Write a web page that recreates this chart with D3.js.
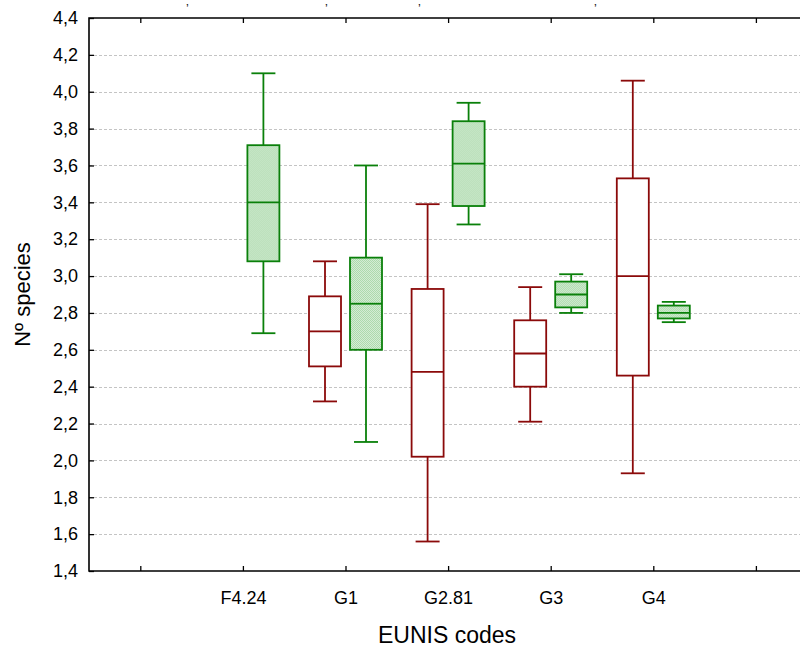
<!DOCTYPE html>
<html>
<head>
<meta charset="utf-8">
<script src="https://cdn.jsdelivr.net/npm/d3@7"></script>
<style>
  body { margin: 0; background: #fff; }
  svg { display: block; font-family: "Liberation Sans", Arial, sans-serif; }
</style>
</head>
<body>
<svg class="chart"></svg>
<script>
const width = 800;
const height = 649;
const margin = {top: 18, left: 89, bottom: 78, right: 0};

// categories (end slots are empty, like in the original)
const categories = ["F4.24", "G1", "G2.81", "G3", "G4"];
const slots = ["_l", ...categories, "_r"];

// [min, q1, median, q3, max] per category
const redBoxes = [
    null,
    [2.32, 2.51, 2.70, 2.89, 3.08],
    [1.56, 2.02, 2.48, 2.93, 3.39],
    [2.21, 2.40, 2.58, 2.76, 2.94],
    [1.93, 2.46, 3.00, 3.53, 4.06]
];
const greenBoxes = [
    [2.69, 3.08, 3.40, 3.71, 4.10],
    [2.10, 2.60, 2.85, 3.10, 3.60],
    [3.28, 3.38, 3.61, 3.84, 3.94],
    [2.80, 2.83, 2.90, 2.97, 3.01],
    [2.75, 2.77, 2.80, 2.84, 2.86]
];
const yTicks = d3.range(1.4, 4.41, 0.2);

const innerW = 712;
const innerH = 553;

let svg = d3.select("svg.chart")
    .attr("width", width)
    .attr("height", height);

let defs = svg.append("defs");
let pat = defs.append("pattern")
    .attr("id", "hatch")
    .attr("width", 2).attr("height", 2)
    .attr("patternUnits", "userSpaceOnUse");
pat.append("rect").attr("width", 2).attr("height", 2).attr("fill", "#d4ecd4");
pat.append("rect").attr("width", 1).attr("height", 1).attr("fill", "#addaad");
pat.append("rect").attr("x", 1).attr("y", 1).attr("width", 1).attr("height", 1).attr("fill", "#addaad");

let g = svg.append("g")
    .attr("transform", `translate(${margin.left}, ${margin.top})`);

let x = d3.scalePoint()
    .domain(slots)
    .range([51.3, 51.3 + 102.6 * 6]);

let y = d3.scaleLinear()
    .domain([1.4, 4.4])
    .range([innerH, 0]);

// grid
g.append("g")
    .selectAll("line")
    .data(yTicks.slice(1, -1))
    .enter().append("line")
    .attr("x1", 0)
    .attr("x2", innerW)
    .attr("y1", d => Math.round(y(d)) + 0.5)
    .attr("y2", d => Math.round(y(d)) + 0.5)
    .attr("stroke", "#c4c4c4")
    .attr("stroke-dasharray", "3,2");

const bw = 32;
const cap = 24;
const off = 20.5;

function drawBoxes(data, dx, stroke, fill) {
    let items = data.map((d, i) => ({cat: categories[i], s: d})).filter(d => d.s);
    let bx = g.append("g").selectAll("g")
        .data(items)
        .enter().append("g")
        .attr("transform", d => `translate(${x(d.cat) + dx}, 0)`)
        .attr("stroke", stroke)
        .attr("stroke-width", 1.8)
        .attr("fill", "none");

    bx.append("line")
        .attr("y1", d => y(d.s[0])).attr("y2", d => y(d.s[1]));
    bx.append("line")
        .attr("y1", d => y(d.s[3])).attr("y2", d => y(d.s[4]));
    bx.append("line")
        .attr("x1", -cap / 2).attr("x2", cap / 2)
        .attr("y1", d => y(d.s[0])).attr("y2", d => y(d.s[0]));
    bx.append("line")
        .attr("x1", -cap / 2).attr("x2", cap / 2)
        .attr("y1", d => y(d.s[4])).attr("y2", d => y(d.s[4]));
    bx.append("rect")
        .attr("x", -bw / 2)
        .attr("width", bw)
        .attr("y", d => y(d.s[3]))
        .attr("height", d => y(d.s[1]) - y(d.s[3]))
        .attr("fill", fill);
    bx.append("line")
        .attr("x1", -bw / 2).attr("x2", bw / 2)
        .attr("y1", d => y(d.s[2])).attr("y2", d => y(d.s[2]));
}

drawBoxes(redBoxes, -off, "#8b0a0a", "#fff");
drawBoxes(greenBoxes, off, "#0a800a", "url(#hatch)");

// axes
let yAxis = g.append("g")
    .call(d3.axisLeft(y)
        .tickValues(yTicks)
        .tickSize(-5)
        .tickPadding(11)
        .tickFormat(d => d3.format(".1f")(d).replace(".", ",")));

let xAxis = g.append("g")
    .attr("transform", `translate(0, ${innerH})`)
    .call(d3.axisBottom(x)
        .tickSize(-5)
        .tickPadding(20)
        .tickFormat(d => d.startsWith("_") ? "" : d));

let topAxis = g.append("g")
    .call(d3.axisTop(x)
        .tickSize(-5)
        .tickFormat(""));

[yAxis, xAxis, topAxis].forEach(a => {
    a.select(".domain").remove();
    a.selectAll(".tick line").attr("stroke", "#000").attr("stroke-width", 1.3);
    a.selectAll("text").attr("fill", "#000").style("font-size", "18px");
});

// frame (right side falls outside the picture)
g.append("path")
    .attr("d", `M${innerW + 5},0H0V${innerH}H${innerW + 5}`)
    .attr("fill", "none")
    .attr("stroke", "#000")
    .attr("stroke-width", 1.6);

svg.append("text")
    .attr("transform", `translate(30, ${margin.top + innerH / 2}) rotate(-90)`)
    .attr("text-anchor", "middle")
    .style("font-size", "22px")
    .text("Nº species");

svg.append("text")
    .attr("x", 447)
    .attr("y", 643)
    .attr("text-anchor", "middle")
    .style("font-size", "23px")
    .text("EUNIS codes");

// small clipped marks along the top edge of the original image
svg.append("g")
    .selectAll("text")
    .data([186, 325, 418, 594])
    .enter().append("text")
    .attr("x", d => d)
    .attr("y", 13)
    .style("font-size", "13px")
    .attr("fill", "#222")
    .text("\u02BC");
</script>
</body>
</html>
